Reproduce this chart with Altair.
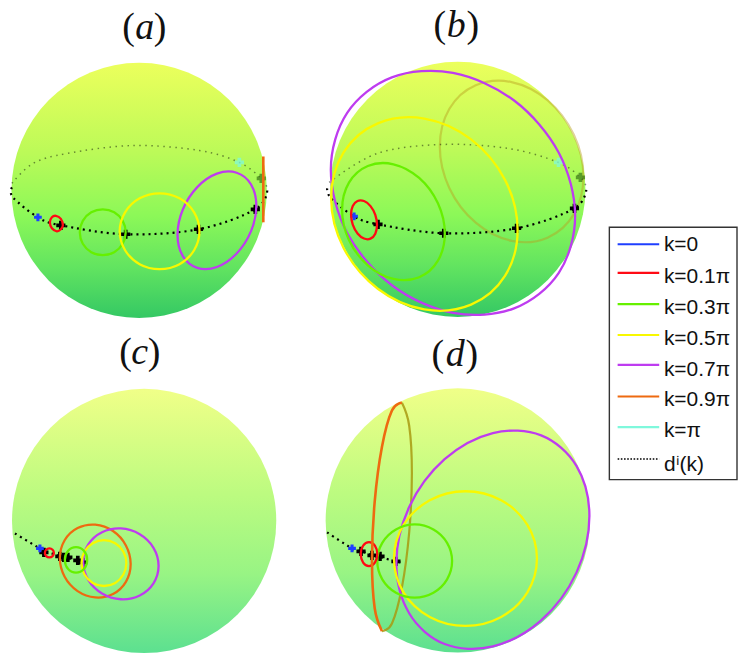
import altair as alt
import pandas as pd

KEYS = ["k=0", "k=0.1π", "k=0.3π", "k=0.5π", "k=0.7π", "k=0.9π", "k=π", "dⁱ(k)"]
COLORS = ["#1F3FFF", "#FF0A14", "#66F000", "#F8F800", "#BE3CF0", "#EE6A10", "#7FF8DC", "#000000"]
LEGEND_LINE_Y = [244, 272.7, 304, 335, 365, 396.7, 427.3, 459.3]
LEGEND_TEXT_Y = [245, 276.7, 308, 338.7, 369.7, 400.3, 431, 465]
LEGEND_LINE_X = (619.3, 661)
LEGEND_TEXT_X = 665.7
LEGEND_BOX = [(611, 739, 227, 480)]

SPHERES_TOP = [("a", 139.5, 190), ("b", 459, 189)]
SPHERES_BOTTOM = [("c", 144.5, 521.5), ("d", 459, 521)]

# closed curves
A_RED = [(63, 225), (61, 229), (57, 231), (52, 228), (50, 222), (52, 217), (56, 215.5), (61, 218.5)]
A_GREEN = [(126, 232), (123, 243.5), (114.5, 252), (103, 255), (91.5, 252), (83, 243.5), (80, 232), (83, 220.5),
           (91.5, 212), (103, 209), (114.5, 212), (123, 220.5)]
A_YELLOW = [(200, 231), (194.6, 250), (180, 264), (160, 269), (140, 264), (125.4, 250), (120, 231), (125.4, 212),
            (140, 198), (160, 193), (180, 198), (194.6, 212)]
A_PURPLE = [(257, 205.6), (251.7, 230.9), (237.3, 253.3), (217.5, 266.8), (197.8, 267.7), (183.3, 255.9),
            (178, 234.4), (183.3, 209.1), (197.8, 186.7), (217.5, 173.2), (237.3, 172.3), (251.7, 184.1)]
A_ORANGE = [(264, 156), (264, 222)]

B_RED = [(378, 224.7), (376.3, 233.4), (371.5, 238.4), (365, 238.3), (358.5, 233.2), (353.7, 224.4), (352, 214.3),
         (353.7, 205.6), (358.5, 200.6), (365, 200.7), (371.5, 205.8), (376.3, 214.6)]
B_GREEN = [(446, 233.3), (439.1, 260.5), (420.3, 277.1), (394.5, 278.8), (368.8, 265.1), (349.9, 239.7),
           (343, 209.3), (349.9, 182.2), (368.8, 165.5), (394.5, 163.8), (420.3, 177.5), (439.1, 203)]
B_YELLOW = [(519, 229.7), (506.5, 275.5), (472.3, 304.6), (425.5, 309.4), (378.8, 288.6), (344.5, 247.7),
            (332, 197.7), (344.5, 151.9), (378.8, 122.8), (425.5, 118), (472.3, 138.8), (506.5, 179.7)]
B_PURPLE = [(576.7, 215.6), (560.3, 272.7), (515.5, 308.3), (454.2, 312.8), (392.9, 285.1), (348.1, 232.7),
            (331.7, 169.4), (348.1, 112.3), (392.9, 76.7), (454.2, 72.2), (515.5, 99.9), (560.3, 152.3)]
B_ORANGE_BACK = [(585, 176), (575.4, 213.8), (549, 237.4), (513, 240.6), (477, 222.4), (450.6, 187.8), (441, 146),
                 (450.6, 108.2), (477, 84.6), (513, 81.4), (549, 99.6), (575.4, 134.2)]

C_RED = [(54, 553.5), (52.7, 556.7), (49.5, 558), (46.3, 556.7), (45, 553.5), (46.3, 550.3), (49.5, 549), (52.7, 550.3)]
C_GREEN = [(87.4, 560.5), (84.1, 569.6), (76.2, 573.3), (68.3, 569.6), (65, 560.5), (68.3, 551.4), (76.2, 547.7),
           (84.1, 551.4)]
C_YELLOW = [(126.7, 563.7), (123.7, 575.2), (115.5, 583.6), (104.2, 586.7), (93, 583.6), (84.7, 575.2), (81.7, 563.7),
            (84.7, 552.2), (93, 543.8), (104.2, 540.7), (115.5, 543.8), (123.7, 552.2)]
C_PURPLE = [(159, 566.5), (153.9, 584), (140.1, 596.2), (121.2, 600), (102.3, 594.2), (88.5, 580.6), (83.4, 562.5),
            (88.5, 545), (102.3, 532.8), (121.2, 529), (140.1, 534.8), (153.9, 548.4)]
C_ORANGE = [(131, 564.7), (126.2, 582.6), (113.3, 594.8), (95.5, 598.2), (77.8, 591.8), (64.8, 577.4), (60, 558.7),
            (64.8, 540.8), (77.8, 528.6), (95.5, 525.2), (113.3, 531.6), (126.2, 546)]

D_RED = [(378.3, 554.7), (375.9, 563.2), (370, 566.7), (364.1, 563.2), (361.7, 554.7), (364.1, 546.2), (370, 542.7),
         (375.9, 546.2)]
D_GREEN = [(453.3, 561.7), (448.3, 580), (434.6, 593.4), (415.8, 598.3), (397, 593.4), (383.3, 580), (378.3, 561.7),
           (383.3, 543.4), (397, 530), (415.8, 525), (434.6, 530), (448.3, 543.4)]
D_YELLOW = [(538.4, 559.2), (528.8, 593), (502.5, 617.7), (466.7, 626.7), (430.9, 617.7), (404.6, 593), (395, 559.2),
            (404.6, 525.5), (430.9, 500.7), (466.7, 491.7), (502.5, 500.7), (528.8, 525.5)]
D_PURPLE = [(591, 516.6), (578, 573.3), (542.6, 621.1), (494.2, 647.3), (445.8, 644.9), (410.4, 614.3), (397.4, 564),
            (410.4, 507.3), (445.8, 459.5), (494.2, 433.3), (542.6, 435.7), (578, 466.3)]
D_ORANGE_FRONT = [(383, 632), (375.7, 609), (373, 561.5), (375.7, 502.2), (383, 447), (393, 410.7), (403, 403)]
D_ORANGE_BACK = [(403, 403), (410.3, 426), (413, 473.5), (410.3, 532.8), (403, 588), (393, 624.3), (383, 632)]

# dotted d(k) curves
A_FRONT = [(12, 187), (13, 197), (38, 217), (61, 225), (126, 234), (199, 229), (256, 209), (268, 190)]
A_BACK = [(12, 183), (33, 163), (67, 153), (133, 145), (200, 150), (240, 162), (262, 178), (268, 188)]
B_FRONT = [(328, 188), (332, 198), (355, 216), (379, 224), (445, 233), (518, 228), (576, 208), (588, 188)]
B_BACK = [(330, 182), (378, 153), (443, 144), (510, 148), (560, 162), (582, 177), (588, 187)]
C_FRONT = [(15, 534), (40, 549), (49, 553), (62, 557), (83, 563)]
D_FRONT = [(328, 533), (353, 549), (362, 552), (375, 556), (397, 562), (402, 563)]

# marker positions on the sphere
BLACK_MARKERS = [(61, 225), (126, 234), (199, 229), (256, 209),
                 (379, 224), (445, 233), (518, 228), (576, 208),
                 (44, 553), (60, 557), (64, 558), (68, 558), (78, 561), (83, 563),
                 (362, 552), (373, 556), (381, 557), (397, 562)]
BLUE_MARKERS = [(38, 217), (355, 216), (40, 549), (353, 549)]
TEAL_MARKERS = [(240, 162), (560, 162)]
OLIVE_MARKERS = [(262, 178), (582, 177)]

PAREN_TEXT = [("(", 129, 38), (")", 160.5, 38), ("(", 441, 36), (")", 474, 36),
              ("(", 126, 364), (")", 154.5, 364), ("(", 439, 366), (")", 473, 366)]
LETTER_TEXT = [("a", 145, 38), ("b", 457.5, 36), ("c", 140, 364), ("d", 456.5, 366)]


def curves(items):
    rows = []
    for panel, key, pts in items:
        for seq, (x, y) in enumerate(pts):
            rows.append({"panel": panel, "k": key, "seq": seq, "x": x, "y": y})
    return pd.DataFrame(rows)


closed = curves([
    ("a", "k=0.1π", A_RED), ("a", "k=0.3π", A_GREEN), ("a", "k=0.7π", A_PURPLE), ("a", "k=0.5π", A_YELLOW),
    ("b", "k=0.7π", B_PURPLE), ("b", "k=0.3π", B_GREEN), ("b", "k=0.5π", B_YELLOW), ("b", "k=0.1π", B_RED),
    ("c", "k=0.9π", C_ORANGE), ("c", "k=0.7π", C_PURPLE), ("c", "k=0.5π", C_YELLOW), ("c", "k=0.3π", C_GREEN), ("c", "k=0.1π", C_RED),
    ("d", "k=0.7π", D_PURPLE), ("d", "k=0.5π", D_YELLOW), ("d", "k=0.3π", D_GREEN), ("d", "k=0.1π", D_RED),
])
front_open = curves([("a", "k=0.9π", A_ORANGE), ("d", "k=0.9π", D_ORANGE_FRONT)])
back_closed = curves([("b", "k=0.9π", B_ORANGE_BACK)])
back_open = curves([("d", "k=0.9π", D_ORANGE_BACK)])
dots_front = curves([("a", "dⁱ(k)", A_FRONT), ("b", "dⁱ(k)", B_FRONT), ("c", "dⁱ(k)", C_FRONT), ("d", "dⁱ(k)", D_FRONT)])
dots_back = curves([("a", "dⁱ(k)", A_BACK), ("b", "dⁱ(k)", B_BACK)])
key_lines = pd.DataFrame({"k": KEYS, "x": LEGEND_LINE_X[0], "x2": LEGEND_LINE_X[1], "y": LEGEND_LINE_Y})
key_labels = pd.DataFrame({"k": KEYS, "x": LEGEND_TEXT_X, "y": LEGEND_TEXT_Y})


def table(rows, cols):
    return pd.DataFrame(rows, columns=cols)


X = alt.X("x:Q", scale=alt.Scale(domain=[8, 741]), axis=None)
Y = alt.Y("y:Q", scale=alt.Scale(domain=[656, 8]), axis=None)
COLOR = alt.Color("k:N", scale=alt.Scale(domain=KEYS, range=COLORS), legend=None)


def sphere(rows, size, stops):
    grad = alt.Gradient(gradient="linear", x1=0, x2=0, y1=0, y2=1,
                        stops=[alt.GradientStop(color=c, offset=o) for o, c in stops])
    return alt.Chart(table(rows, ["panel", "x", "y"])).mark_circle(size=size, opacity=1, fill=grad).encode(x=X, y=Y)


def markers(rows, color, opacity=1.0, size=85):
    return alt.Chart(table(rows, ["x", "y"])).mark_point(shape="cross", filled=True, size=size, color=color,
                                                          opacity=opacity).encode(x=X, y=Y)


def path(df, interp, width=2.3):
    return alt.Chart(df).mark_line(interpolate=interp, strokeWidth=width).encode(
        x=X, y=Y, color=COLOR, detail="panel:N", order="seq:Q")


def faint(df, interp, color, opacity):
    return alt.Chart(df).mark_line(interpolate=interp, strokeWidth=2.2, color=color, opacity=opacity).encode(
        x=X, y=Y, detail="panel:N", order="seq:Q")


box = alt.Chart(table(LEGEND_BOX, ["x", "x2", "y", "y2"])).mark_rect(
    fill="white", stroke="#333333", strokeWidth=1.4
).encode(x=X, x2="x2:Q", y=Y, y2="y2:Q")

layers = [
    box,
    alt.Chart(key_lines[key_lines.k != KEYS[-1]]).mark_rule(strokeWidth=2.2).encode(x=X, x2="x2:Q", y=Y, color=COLOR),
    alt.Chart(key_lines[key_lines.k == KEYS[-1]]).mark_rule(strokeWidth=1.6, strokeDash=[1.6, 1.6]).encode(
        x=X, x2="x2:Q", y=Y, color=COLOR),
    alt.Chart(key_labels).mark_text(font="Liberation Sans", fontSize=21, color="#111111", align="left",
                                    baseline="middle").encode(x=X, y=Y, text="k:N"),
    sphere(SPHERES_TOP, 65536, [(0, "#ECFF5C"), (0.35, "#BCFA58"), (0.6, "#8CF858"), (0.8, "#62E460"), (1, "#34C864")]),
    sphere(SPHERES_BOTTOM, 70225, [(0, "#F0FF88"), (0.4, "#BCFB80"), (0.7, "#98F484"), (1, "#5CE090")]),
    faint(back_closed, "cardinal-closed", "#B8A020", 0.45),
    faint(back_open, "cardinal", "#A89A10", 0.85),
    alt.Chart(dots_back).mark_line(interpolate="cardinal", strokeWidth=1.5, opacity=0.45, strokeDash=[1.5, 4.5]).encode(
        x=X, y=Y, color=COLOR, detail="panel:N", order="seq:Q"),
    alt.Chart(dots_front).mark_line(interpolate="cardinal", strokeWidth=2.2, strokeDash=[2, 4]).encode(
        x=X, y=Y, color=COLOR, detail="panel:N", order="seq:Q"),
    markers(TEAL_MARKERS, "#7FF8DC", 0.75),
    markers(OLIVE_MARKERS, "#2E6B10", 0.65),
    markers(BLACK_MARKERS, "#000000"),
    markers(BLUE_MARKERS, "#1F3FFF", 1.0, 60),
    alt.Chart(closed).mark_line(interpolate="cardinal-closed", strokeWidth=2.3).encode(
        x=X, y=Y, color=COLOR, detail="panel:N", order="seq:Q"),
    path(front_open, "cardinal", 2.6),
    alt.Chart(table(PAREN_TEXT, ["t", "x", "y"])).mark_text(font="Liberation Serif", fontSize=38, color="#111111",
                                                           baseline="alphabetic").encode(x=X, y=Y, text="t:N"),
    alt.Chart(table(LETTER_TEXT, ["t", "x", "y"])).mark_text(font="Liberation Serif", fontSize=38, fontStyle="italic",
                                                            color="#111111", baseline="alphabetic").encode(x=X, y=Y, text="t:N"),
]

chart = alt.layer(*layers).properties(
    width=733, height=648, padding=0, autosize=alt.AutoSizeParams(type="none"), background="white"
).configure_view(stroke=None)

chart.save("out.html", embed_options={"renderer": "svg", "actions": False})
